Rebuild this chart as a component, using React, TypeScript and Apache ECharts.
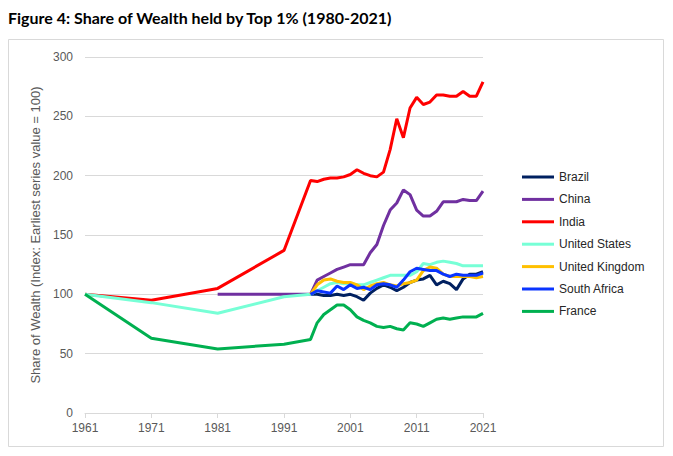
import React, { useEffect, useRef } from "react";
import * as echarts from "echarts";

const annualYears = [1995, 1996, 1997, 1998, 1999, 2000, 2001, 2002, 2003, 2004, 2005, 2006, 2007, 2008, 2009, 2010, 2011, 2012, 2013, 2014, 2015, 2016, 2017, 2018, 2019, 2020, 2021];
const decadeYears = [1961, 1971, 1981, 1991];
const chinaEarlyYears = [1981, 1991];
const xTickLabels = ["1961", "1971", "1981", "1991", "2001", "2011", "2021"];

const brazil = [100, 100, 99, 99, 100, 99, 100, 98, 95, 101, 105, 108, 106, 103, 106, 110, 112, 113, 116, 108, 111, 109, 104, 113, 117, 117, 119];
const chinaEarly = [100, 100];
const china = [100, 112, 115, 118, 121, 123, 125, 125, 125, 135, 142, 158, 171, 177, 188, 184, 171, 166, 166, 170, 178, 178, 178, 180, 179, 179, 187];
const indiaEarly = [100, 95, 105, 137];
const india = [196, 195, 197, 198, 198, 199, 201, 205, 202, 200, 199, 203, 222, 248, 232, 257, 266, 260, 262, 268, 268, 267, 267, 271, 267, 267, 279];
const usEarly = [100, 93, 84, 98];
const us = [100, 103, 106, 109, 110, 109, 109, 108, 108, 110, 112, 114, 116, 116, 116, 116, 119, 126, 125, 127, 128, 127, 126, 124, 124, 124, 124];
const uk = [100, 108, 112, 113, 111, 110, 110, 108, 104, 107, 109, 110, 108, 107, 109, 110, 112, 120, 123, 122, 117, 115, 115, 115, 115, 114, 115];
const southAfrica = [100, 103, 102, 101, 107, 104, 108, 105, 106, 104, 108, 109, 108, 106, 112, 119, 122, 121, 120, 120, 117, 115, 117, 116, 116, 116, 118];
const franceEarly = [100, 63, 54, 58];
const france = [62, 76, 83, 87, 91, 91, 87, 81, 78, 76, 73, 72, 73, 71, 70, 76, 75, 73, 76, 79, 80, 79, 80, 81, 81, 81, 84];

const BASE_YEAR = 1961;

function pts(years: number[], vals: number[]) {
  return years.map((y, i) => [y - BASE_YEAR, vals[i]]);
}

export default function App() {
  const ref = useRef<HTMLDivElement>(null);
  useEffect(() => {
    const chart = echarts.init(ref.current!, undefined, { renderer: "svg" });
    const mk = (name: string, color: string, data: number[][]) => ({
      name,
      type: "line",
      data,
      showSymbol: false,
      symbol: "none",
      lineStyle: { color, width: 3 },
      itemStyle: { color },
      emphasis: { disabled: true },
    });
    chart.setOption({
      animation: false,
      title: {
        text: "Figure 4: Share of Wealth held by Top 1% (1980-2021)",
        left: 8,
        top: 9,
        padding: 0,
        textStyle: { fontFamily: "Lato", fontWeight: "bold", fontSize: 16, color: "#000" },
      },
      graphic: [
        {
          type: "rect",
          shape: { x: 8.5, y: 39.5, width: 655, height: 407 },
          style: { fill: "none", stroke: "#d9d9d9", lineWidth: 1 },
          silent: true,
        },
      ],
      legend: {
        orient: "vertical",
        left: 517,
        top: 165,
        icon: "rect",
        itemWidth: 32,
        itemHeight: 3,
        itemGap: 8.4,
        textStyle: { fontFamily: "Liberation Sans", fontSize: 12, color: "#262626", lineHeight: 14 },
        data: ["Brazil", "China", "India", "United States", "United Kingdom", "South Africa", "France"],
      },
      grid: { left: 85, right: 190, top: 57, bottom: 43, containLabel: false },
      xAxis: {
        type: "value",
        min: 0,
        max: 60,
        interval: 10,
        axisLine: { show: true, lineStyle: { color: "#d9d9d9", width: 1 } },
        axisTick: { show: true, length: 5, lineStyle: { color: "#d9d9d9" } },
        splitLine: { show: false },
        axisLabel: {
          margin: 9,
          fontFamily: "Liberation Sans",
          fontSize: 12,
          color: "#595959",
          formatter: (v: number) => xTickLabels[Math.round(v / 10)] ?? "",
        },
      },
      yAxis: {
        type: "value",
        min: 0,
        max: 300,
        interval: 50,
        name: "Share of Wealth (Index: Earliest series value = 100)",
        nameLocation: "middle",
        nameGap: 40,
        nameTextStyle: { fontFamily: "Liberation Sans", fontSize: 13, color: "#595959" },
        axisLine: { show: false },
        axisTick: { show: false },
        splitLine: { lineStyle: { color: "#d9d9d9", width: 1 } },
        axisLabel: { margin: 12, fontFamily: "Liberation Sans", fontSize: 12, color: "#595959" },
      },
      series: [
        mk("Brazil", "#002060", pts(annualYears, brazil)),
        mk("China", "#7030A0", pts([...chinaEarlyYears, ...annualYears], [...chinaEarly, ...china])),
        mk("India", "#FF0000", pts([...decadeYears, ...annualYears], [...indiaEarly, ...india])),
        mk("United States", "#77FFD6", pts([...decadeYears, ...annualYears], [...usEarly, ...us])),
        mk("United Kingdom", "#FFC000", pts(annualYears, uk)),
        mk("South Africa", "#0A35FF", pts(annualYears, southAfrica)),
        mk("France", "#00B050", pts([...decadeYears, ...annualYears], [...franceEarly, ...france])),
      ],
    });
    return () => chart.dispose();
  }, []);
  return <div ref={ref} style={{ position: "fixed", left: 0, top: 0, width: 673, height: 456, background: "#fff" }} />;
}
